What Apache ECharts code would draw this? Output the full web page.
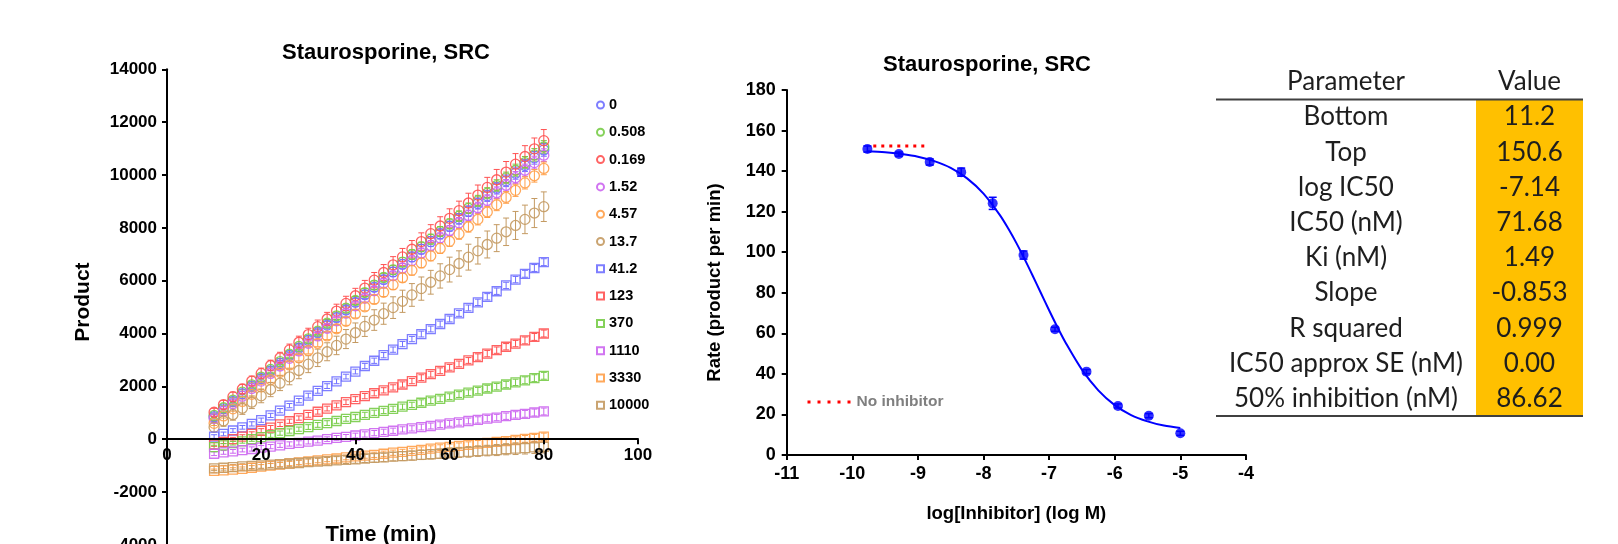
<!DOCTYPE html>
<html>
<head>
<meta charset="utf-8">
<title>Staurosporine, SRC</title>
<script src="https://cdn.jsdelivr.net/npm/echarts@6.0.0/dist/echarts.min.js"></script>
<style>
  html, body { margin: 0; padding: 0; background: #fff; }
  #main { width: 1618px; height: 544px; }
</style>
</head>
<body>
<div id="main"></div>
<script>
// ---- progress curves: product vs time, one array per inhibitor conc (nM) ----
const time = [10,12,14,16,18,20,22,24,26,28,30,32,34,36,38,40,42,44,46,48,50,52,54,56,58,60,62,64,66,68,70,72,74,76,78,80];

const p_0     = [850,1150,1430,1720,2010,2300,2590,2870,3170,3450,3740,4030,4320,4600,4890,5180,5470,5750,6040,6330,6620,6900,7190,7480,7770,8060,8340,8630,8920,9210,9500,9780,10070,10360,10650,10950];
const p_0508  = [900,1190,1480,1780,2060,2350,2640,2940,3220,3510,3800,4090,4390,4670,4960,5250,5550,5830,6120,6410,6700,6990,7280,7570,7860,8150,8440,8740,9020,9310,9600,9890,10180,10470,10760,11060];
const p_0169  = [1020,1310,1610,1900,2200,2490,2790,3080,3380,3670,3960,4260,4550,4850,5140,5430,5720,6020,6310,6600,6900,7190,7480,7780,8070,8360,8650,8940,9240,9530,9820,10110,10410,10700,10990,11300];
const p_152   = [780,1060,1350,1630,1920,2200,2490,2770,3060,3340,3630,3910,4200,4480,4770,5050,5340,5620,5910,6190,6480,6760,7050,7330,7620,7900,8190,8470,8760,9040,9330,9610,9900,10180,10470,10750];
const p_457   = [600,880,1150,1430,1700,1980,2250,2530,2810,3080,3360,3630,3910,4180,4460,4740,5010,5290,5560,5840,6110,6390,6670,6940,7220,7490,7770,8040,8320,8600,8870,9150,9420,9700,9970,10250];
const p_137   = [450,690,930,1170,1400,1640,1880,2120,2360,2600,2840,3080,3310,3550,3790,4030,4270,4510,4750,4980,5220,5460,5700,5940,6180,6420,6650,6890,7130,7370,7610,7850,8090,8320,8560,8800];
const p_412   = [100,200,330,450,580,720,900,1080,1270,1460,1650,1830,2010,2190,2370,2560,2770,2970,3180,3390,3600,3790,3980,4170,4360,4550,4760,4970,5180,5390,5600,5820,6040,6260,6480,6700];
const p_123   = [-200,-100,0,100,200,320,440,560,680,800,920,1040,1160,1280,1400,1520,1630,1740,1850,1960,2070,2200,2330,2460,2590,2720,2850,2980,3110,3240,3370,3500,3620,3740,3870,4000];
const p_370   = [-300,-230,-150,-80,0,80,150,230,310,380,460,540,610,690,770,840,920,1000,1070,1150,1230,1300,1380,1460,1530,1610,1690,1760,1840,1920,1990,2070,2150,2230,2310,2400];
const p_1110  = [-550,-500,-460,-410,-370,-320,-280,-230,-180,-140,-90,-50,0,50,90,140,180,230,280,320,370,410,460,500,550,600,640,690,730,780,820,870,920,960,1010,1050];
const p_3330  = [-1200,-1180,-1150,-1120,-1080,-1040,-1000,-960,-920,-880,-840,-800,-760,-730,-690,-650,-620,-590,-550,-510,-480,-440,-400,-360,-320,-290,-250,-210,-170,-140,-100,-70,-30,10,50,100];
const p_10000 = [-1100,-1080,-1060,-1030,-1010,-990,-960,-940,-920,-900,-870,-850,-830,-800,-780,-760,-730,-710,-690,-660,-640,-620,-590,-570,-550,-520,-500,-480,-450,-430,-410,-380,-360,-340,-310,-290];

// standard errors
const errTop   = [80,80,90,90,100,100,110,110,120,120,130,130,140,140,150,150,150,160,160,170,170,180,180,190,190,190,200,200,210,210,220,220,230,230,240,240];
const errRed   = [150,160,170,180,190,200,200,210,220,230,240,250,250,260,270,280,290,290,300,310,320,330,330,340,350,360,360,370,380,380,390,400,400,410,410,420];
const errTan   = [180,200,210,230,240,260,270,280,300,310,320,330,340,350,360,370,380,390,400,410,420,430,440,450,460,470,480,490,500,510,510,520,530,540,550,560];
const errSq    = [70,70,70,70,80,80,80,80,80,80,90,90,90,90,90,90,100,100,100,100,100,100,110,110,110,110,110,110,120,120,120,120,120,130,130,130];
const errSqTan = [90,90,100,100,100,110,110,120,120,120,130,130,140,140,140,150,150,160,160,160,170,170,180,180,180,190,190,200,200,200,210,210,220,220,230,230];

const concLabels = ['0','0.508','0.169','1.52','4.57','13.7','41.2','123','370','1110','3330','10000'];

// ---- dose response ----
const logConc = [-9.77,-9.29,-8.82,-8.34,-7.86,-7.39,-6.91,-6.43,-5.95,-5.48,-5.0];
const rate    = [150.9,148.4,144.5,139.5,124.1,98.6,62.0,41.1,24.2,19.4,10.7];
const rateErr = [1.5,1.0,1.5,2.0,3.0,2.0,1.0,1.0,1.0,1.0,1.0];
const fitX = [-9.78,-9.5,-9.25,-9,-8.75,-8.5,-8.25,-8,-7.75,-7.625,-7.5,-7.375,-7.25,-7.125,-7,-6.875,-6.75,-6.5,-6.25,-6,-5.75,-5.5,-5.25,-5];
const fitY = [149.8,149.3,148.4,147.1,144.9,141.6,136.4,128.9,118.3,111.8,104.6,96.7,88.4,79.9,71.4,63.2,55.5,42.1,31.9,24.6,19.7,16.6,14.5,13.3];
const noInhX = [-9.68,-8.86];
const noInhY = [152.4,152.4];

// ---- fit table ----
const paramNames  = ['Bottom','Top','log IC50','IC50 (nM)','Ki (nM)','Slope','R squared','IC50 approx SE (nM)','50% inhibition (nM)'];
const paramValues = ['11.2','150.6','-7.14','71.68','1.49','-0.853','0.999','0.00','86.62'];

// styling
const FONT = '"Liberation Sans", Arial, sans-serif';
const colors = ['#7070ff','#78cc48','#ff5252','#cc66f0','#ffa04a','#c49a62',
                '#7070ff','#ff5252','#78cc48','#cc66f0','#ffa04a','#c49a62'];
const shapes = ['circle','circle','circle','circle','circle','circle','rect','rect','rect','rect','rect','rect'];
const productData = [p_0,p_0508,p_0169,p_152,p_457,p_137,p_412,p_123,p_370,p_1110,p_3330,p_10000];
const productErr  = [errTop,errTop,errRed,errTop,errTop,errTan,errSq,errSq,errSq,errSq,errSq,errSqTan];

function errorBar(color, capHalf, width) {
  return function (params, api) {
    const x = api.value(0), y = api.value(1), e = api.value(2);
    const hi = api.coord([x, y + e]);
    const lo = api.coord([x, y - e]);
    const style = { stroke: color, lineWidth: width };
    return {
      type: 'group',
      children: [
        { type: 'line', shape: { x1: hi[0], y1: hi[1], x2: lo[0], y2: lo[1] }, style: style },
        { type: 'line', shape: { x1: hi[0] - capHalf, y1: hi[1], x2: hi[0] + capHalf, y2: hi[1] }, style: style },
        { type: 'line', shape: { x1: lo[0] - capHalf, y1: lo[1], x2: lo[0] + capHalf, y2: lo[1] }, style: style }
      ]
    };
  };
}

const series = [];
concLabels.forEach(function (name, k) {
  const pts = time.map(function (t, i) { return [t, productData[k][i]]; });
  const errPts = time.map(function (t, i) { return [t, productData[k][i], productErr[k][i]]; });
  series.push({
    name: 'err ' + name, type: 'custom', xAxisIndex: 0, yAxisIndex: 0,
    renderItem: errorBar(colors[k], 3, 1), encode: { x: 0, y: 1 }, data: errPts, z: 2
  });
  series.push({
    name: name, type: 'scatter', xAxisIndex: 0, yAxisIndex: 0,
    symbol: shapes[k], symbolSize: shapes[k] === 'rect' ? 9 : 10,
    itemStyle: { color: 'transparent', borderColor: colors[k], borderWidth: 1.3, opacity: 0.9 },
    data: pts, z: 3
  });
});

series.push({
  name: 'fit', type: 'line', xAxisIndex: 1, yAxisIndex: 1,
  data: fitX.map(function (x, i) { return [x, fitY[i]]; }),
  smooth: 0.3, symbol: 'none', lineStyle: { color: '#0000ff', width: 2 }, z: 3
});
series.push({
  name: 'rate err', type: 'custom', xAxisIndex: 1, yAxisIndex: 1,
  renderItem: errorBar('#0000ff', 4, 1.5), encode: { x: 0, y: 1 },
  data: logConc.map(function (x, i) { return [x, rate[i], rateErr[i]]; }), z: 4
});
series.push({
  name: 'rate', type: 'scatter', xAxisIndex: 1, yAxisIndex: 1,
  symbol: 'circle', symbolSize: 10, itemStyle: { color: '#0000ff' },
  data: logConc.map(function (x, i) { return [x, rate[i]]; }), z: 5
});
series.push({
  name: 'No inhibitor', type: 'line', xAxisIndex: 1, yAxisIndex: 1,
  data: noInhX.map(function (x, i) { return [x, noInhY[i]]; }),
  symbol: 'none', itemStyle: { color: '#ff0000' },
  lineStyle: { color: '#ff0000', width: 3, type: [3, 5], cap: 'butt' }, z: 6
});

function plainNum(v) { return String(v); }

function axisBase(fontSize, margin) {
  return {
    type: 'value',
    axisLine: { show: true, onZero: false, lineStyle: { color: '#000', width: 2 } },
    axisTick: { show: true, inside: false, length: 5, lineStyle: { color: '#000', width: 2 } },
    axisLabel: { color: '#000', fontSize: fontSize, fontWeight: 'bold', fontFamily: FONT, inside: false,
                 margin: margin, showMinLabel: true, showMaxLabel: true, formatter: plainNum },
    splitLine: { show: false },
    nameLocation: 'middle'
  };
}

// left x axis sits on the zero line of the product axis
const xLeft = Object.assign(axisBase(17, 8), {
  gridIndex: 0, min: 0, max: 100, interval: 20, position: 'bottom', offset: -105.7, z: 10,
  name: 'Time (min)', nameGap: 85,
  nameTextStyle: { color: '#000', fontSize: 22, fontWeight: 'bold', fontFamily: FONT, padding: [0, 43, 0, 0] }
});
const yLeft = Object.assign(axisBase(17, 10), {
  gridIndex: 0, min: -4000, max: 14000, interval: 2000, position: 'left',
  name: 'Product', nameGap: 73,
  nameTextStyle: { color: '#000', fontSize: 21, fontWeight: 'bold', fontFamily: FONT, padding: [0, 0, 0, 10] }
});
const xRight = Object.assign(axisBase(18, 10), {
  gridIndex: 1, min: -11, max: -4, interval: 1, position: 'bottom',
  name: 'log[Inhibitor] (log M)', nameGap: 49,
  nameTextStyle: { color: '#000', fontSize: 18.5, fontWeight: 'bold', fontFamily: FONT }
});
const yRight = Object.assign(axisBase(18, 11), {
  gridIndex: 1, min: 0, max: 180, interval: 20, position: 'left',
  name: 'Rate (product per min)', nameGap: 62,
  nameTextStyle: { color: '#000', fontSize: 18.5, fontWeight: 'bold', fontFamily: FONT, padding: [0, 20, 0, 0] }
});

// table graphics
const tbl = { x0: 1216, x1: 1583, xv: 1476, top: 99.5, bottom: 416, headY: 82, row0: 117, rowH: 35.2 };
const tableFont = '26px Lato, "Noto Sans", sans-serif';
const colName = (tbl.x0 + tbl.xv) / 2;
const colVal = (tbl.xv + tbl.x1) / 2;
const graphic = [
  { type: 'text', x: 386, y: 53, style: { text: 'Staurosporine, SRC', align: 'center', verticalAlign: 'middle',
      font: 'bold 22px ' + FONT, fill: '#000' } },
  { type: 'text', x: 987, y: 65, style: { text: 'Staurosporine, SRC', align: 'center', verticalAlign: 'middle',
      font: 'bold 22px ' + FONT, fill: '#000' } },
  { type: 'rect', shape: { x: tbl.xv, y: tbl.top, width: tbl.x1 - tbl.xv, height: tbl.bottom - tbl.top },
    style: { fill: '#ffc000' } },
  { type: 'line', shape: { x1: tbl.x0, y1: tbl.top, x2: tbl.x1, y2: tbl.top }, style: { stroke: '#404040', lineWidth: 2 } },
  { type: 'line', shape: { x1: tbl.x0, y1: tbl.bottom, x2: tbl.x1, y2: tbl.bottom }, style: { stroke: '#404040', lineWidth: 2 } },
  { type: 'text', x: colName, y: tbl.headY, style: { text: 'Parameter', align: 'center', verticalAlign: 'middle', font: tableFont, fill: '#1e1e1e' } },
  { type: 'text', x: colVal, y: tbl.headY, style: { text: 'Value', align: 'center', verticalAlign: 'middle', font: tableFont, fill: '#1e1e1e' } }
];
paramNames.forEach(function (p, i) {
  const y = tbl.row0 + i * tbl.rowH;
  graphic.push({ type: 'text', x: colName, y: y, style: { text: p, align: 'center', verticalAlign: 'middle', font: tableFont, fill: '#1e1e1e' } });
  graphic.push({ type: 'text', x: colVal, y: y, style: { text: paramValues[i], align: 'center', verticalAlign: 'middle', font: tableFont, fill: '#1e1e1e' } });
});

const chart = echarts.init(document.getElementById('main'));
const option = {
  backgroundColor: '#fff',
  animation: false,
  grid: [
    { left: 167, top: 69.3, width: 471, height: 475.6, outerBoundsMode: 'none', containLabel: false },
    { left: 786.7, top: 90, width: 459.2, height: 365, outerBoundsMode: 'none', containLabel: false }
  ],
  xAxis: [xLeft, xRight],
  yAxis: [yLeft, yRight],
  legend: [
    {
      data: concLabels, orient: 'vertical', left: 596, top: 97, padding: 0,
      itemWidth: 7, itemHeight: 7, itemGap: 11.3, selectedMode: false,
      textStyle: { color: '#000', fontSize: 14.5, fontWeight: 'bold', fontFamily: FONT, lineHeight: 16 }
    },
    {
      data: ['No inhibitor'], orient: 'horizontal', left: 806, top: 394, padding: 0,
      itemWidth: 44, itemHeight: 10, selectedMode: false,
      itemStyle: { opacity: 0 },
      lineStyle: { color: '#ff0000', width: 3, type: [3, 7], cap: 'butt' },
      textStyle: { color: '#7f7f7f', fontSize: 15.5, fontWeight: 'bold', fontFamily: FONT }
    }
  ],
  graphic: graphic,
  series: series
};
chart.setOption(option);
window.addEventListener('resize', function () { chart.resize(); });
</script>
</body>
</html>
